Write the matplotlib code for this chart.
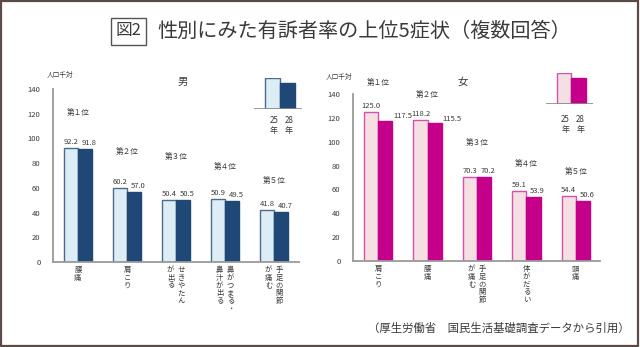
import matplotlib.pyplot as plt
from matplotlib.patches import Rectangle

plt.rcParams['font.family'] = ['Noto Sans CJK JP', 'DejaVu Sans']

#################################################################
# DATOS
#################################################################
ranks = ['第１位', '第２位', '第３位', '第４位', '第５位']
years = ['25\n年', '28\n年']
yticks = [0, 20, 40, 60, 80, 100, 120, 140]

male_symptoms = [['腰痛'], ['肩こり'], ['せきやたん', 'が出る'],
                 ['鼻がつまる・', '鼻汁が出る'], ['手足の関節', 'が痛む']]
male_h25 = [92.2, 60.2, 50.4, 50.9, 41.8]
male_h28 = [91.8, 57.0, 50.5, 49.5, 40.7]

female_symptoms = [['肩こり'], ['腰痛'], ['手足の関節', 'が痛む'],
                   ['体がだるい'], ['頭痛']]
female_h25 = [125.0, 118.2, 70.3, 59.1, 54.4]
female_h28 = [117.5, 115.5, 70.2, 53.9, 50.6]

# layout: altura de los textos "第n位"
male_rank_y = [120.5, 89, 85, 77, 65.5]
female_rank_y = [149, 139, 99, 81, 75]

TEXT = '#3a3a3a'
W, H = 640, 347


def px(x0, y0, x1, y1):
    # rectangulo en pixeles (origen arriba-izquierda) -> fraccion de figura
    return [x0 / W, (H - y1) / H, (x1 - x0) / W, (y1 - y0) / H]


def panel(fig, rect, xlim, h25, h28, symptoms, rank_y, c_light, e_light, c_dark,
          side_labels=()):
    ax = fig.add_axes(rect)
    n = len(h25)
    bw = 0.286
    xs = list(range(n))
    ax.bar([x - bw / 2 for x in xs], h25, bw, color=c_light, edgecolor=e_light, linewidth=1.0)
    ax.bar([x + bw / 2 for x in xs], h28, bw, color=c_dark, edgecolor=c_dark, linewidth=1.0)
    ax.set_xlim(*xlim)
    ax.set_ylim(0, 140)
    ax.set_yticks(yticks)
    ax.set_xticks([])
    ax.tick_params(axis='y', length=0, pad=9, labelsize=5.5, labelcolor=TEXT)
    for s in ['top', 'right']:
        ax.spines[s].set_visible(False)
    for s in ['left', 'bottom']:
        ax.spines[s].set_color('#9a9a9a')
        ax.spines[s].set_linewidth(1.3)

    for i in xs:
        ax.text(i - bw / 2, h25[i] + 1.5, f'{h25[i]:.1f}', ha='center', va='bottom',
                fontsize=5.5, color=TEXT)
        if i in side_labels:
            ax.text(i + bw + 0.02, h28[i] + 0.5, f'{h28[i]:.1f}', ha='left', va='bottom',
                    fontsize=5.5, color=TEXT)
        else:
            ax.text(i + bw / 2 + 0.08, h28[i] + 1.5, f'{h28[i]:.1f}', ha='center', va='bottom',
                    fontsize=5.5, color=TEXT)
        ax.text(i, rank_y[i], ranks[i], ha='center', va='center', fontsize=5.5,
                color=TEXT, clip_on=False)
        # nombres verticales, la primera columna a la derecha
        cols = symptoms[i]
        offs = [0.0] if len(cols) == 1 else [0.11, -0.11]
        for col, off in zip(cols, offs):
            ax.text(i + off, -3.5, '\n'.join(col), ha='center', va='top', fontsize=5.3,
                    color=TEXT, linespacing=0.95, clip_on=False)
    return ax


def leyenda(fig, rect, c_light, e_light, c_dark, lab_y):
    ax = fig.add_axes(rect)
    ax.bar([0, 1], [1.0, 0.84], 1.0, color=[c_light, c_dark],
           edgecolor=[e_light, c_dark], linewidth=1.0)
    ax.set_xlim(-1.23, 1.97)
    ax.set_ylim(0, 1.0)
    ax.axis('off')
    ax.axhline(0, color='#8a8a8a', lw=1.2, xmin=0, xmax=1)
    for x, lab in zip([0, 1], years):
        ax.text(x + 0.1, lab_y, lab, ha='center', va='top', fontsize=5.8,
                color=TEXT, linespacing=1.1, clip_on=False)


fig = plt.figure(figsize=(6.4, 3.47), dpi=100)

# marco
fig.add_artist(Rectangle((0.0015, 0.004), 0.9955, 0.994, transform=fig.transFigure,
                         fill=False, edgecolor='#5b4b48', linewidth=1.6))

# titulo
fig.text(128.5 / W, 1 - 31 / H, '図2', ha='center', va='center', fontsize=12, color=TEXT,
         bbox=dict(boxstyle='square,pad=0.3', facecolor='white', edgecolor='#555555', linewidth=1.0))
fig.text(157 / W, 1 - 31 / H, '性別にみた有訴者率の上位5症状（複数回答）', ha='left', va='center',
         fontsize=14.5, color=TEXT)

panel(fig, px(53, 89, 299, 262), (-0.51, 4.51), male_h25, male_h28, male_symptoms,
      male_rank_y, '#dcedf5', '#4d6a8c', '#1f4877')
panel(fig, px(353, 94, 600, 261), (-0.51, 4.49), female_h25, female_h28, female_symptoms,
      female_rank_y, '#f4e0e3', '#d651aa', '#c4008a', side_labels=(0, 1))

fig.text(183 / W, 1 - 82 / H, '男', ha='center', va='center', fontsize=7.5, color=TEXT)
fig.text(463 / W, 1 - 82 / H, '女', ha='center', va='center', fontsize=7.5, color=TEXT)
fig.text(60 / W, 1 - 75 / H, '人口千対', ha='center', va='center', fontsize=4.8, color=TEXT)
fig.text(339 / W, 1 - 77 / H, '人口千対', ha='center', va='center', fontsize=4.8, color=TEXT)

leyenda(fig, px(254, 78, 302, 109), '#dcedf5', '#4d6a8c', '#1f4877', -0.22)
leyenda(fig, px(546, 73, 593, 104), '#f4e0e3', '#d651aa', '#c4008a', -0.35)

fig.text(630 / W, 1 - 328 / H, '（厚生労働省　国民生活基礎調査データから引用）', ha='right',
         va='center', fontsize=8.2, color=TEXT)

fig.savefig('out.png', dpi=100)
